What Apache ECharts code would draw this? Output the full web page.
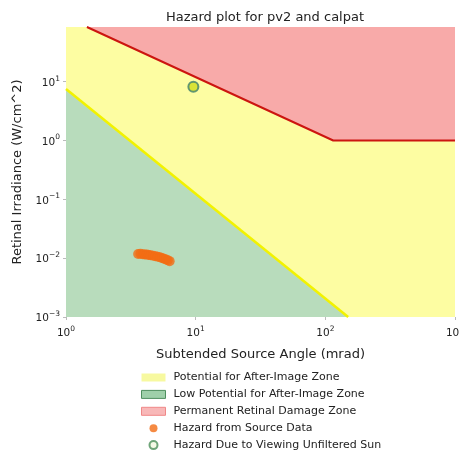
<!DOCTYPE html>
<html><head><meta charset="utf-8">
<script src="https://cdn.jsdelivr.net/npm/echarts@6/dist/echarts.min.js"></script>
<style>html,body{margin:0;padding:0;background:#fff}#c{width:459px;height:453px}</style>
</head><body><div id="c"></div>
<script>
// Axis ranges
const xRange = [1, 1000];
const yRange = [0.001, 85];
// Zone boundaries
const afterImageTop = [[1, 85], [1000, 85]];
const lowPotentialBoundary = [[1, 7.5], [150, 0.001]];
const damageBoundary = [[1.45, 85], [115, 1], [1000, 1]];
// Hazard from source data (angle mrad, irradiance W/cm^2)
const sourceAngle = [3.6, 3.75, 3.9, 4.05, 4.2, 4.35, 4.5, 4.7, 4.9, 5.1, 5.3, 5.5, 5.7, 5.9, 6.1, 6.3];
const sourceIrr = [0.0118, 0.0119, 0.0117, 0.0116, 0.0115, 0.0113, 0.0112, 0.011, 0.0108, 0.0106, 0.0104, 0.0101, 0.0098, 0.0095, 0.0092, 0.0089];
// Unfiltered sun
const sunAngle = [9.6];
const sunIrr = [8.2];
const names = ['Potential for After-Image Zone', 'Low Potential for After-Image Zone', 'Permanent Retinal Damage Zone', 'Hazard from Source Data', 'Hazard Due to Viewing Unfiltered Sun'];

const FONT = 'DejaVu Sans';
function fmt(v) {
  const l = Math.log10(v);
  const e = Math.round(l);
  if (Math.abs(l - e) > 1e-6) return '';
  const s = e < 0 ? '\u2212' + (-e) : '' + e;
  return '{b|10}{s|' + s + '}';
}
const rich = {
  b: { fontSize: 10.5, fontFamily: FONT, color: '#222', verticalAlign: 'bottom', lineHeight: 14 },
  s: { fontSize: 7.5, fontFamily: FONT, color: '#222', verticalAlign: 'top', lineHeight: 14 }
};
const chart = echarts.init(document.getElementById('c'), null, { renderer: 'canvas' });
chart.setOption({
  animation: false,
  backgroundColor: '#fff',
  title: { text: 'Hazard plot for pv2 and calpat', left: 260, top: 6, textAlign: 'center',
    textStyle: { fontFamily: FONT, fontSize: 13, fontWeight: 'normal', color: '#222' } },
  grid: { left: 66, right: 4, top: 27, bottom: 136, containLabel: false, outerBoundsMode: 'none' },
  xAxis: { type: 'log', min: xRange[0], max: xRange[1], logBase: 10,
    name: 'Subtended Source Angle (mrad)', nameLocation: 'middle', nameGap: 31,
    nameTextStyle: { fontFamily: FONT, fontSize: 13, color: '#222' },
    axisLine: { show: false }, splitLine: { show: false },
    axisTick: { show: true, length: 3, lineStyle: { color: '#bbb' } },
    axisLabel: { formatter: fmt, rich: rich, margin: 8 } },
  yAxis: { type: 'log', min: yRange[0], max: yRange[1], logBase: 10,
    name: 'Retinal Irradiance (W/cm^2)', nameLocation: 'middle', nameGap: 42,
    nameTextStyle: { fontFamily: FONT, fontSize: 13, color: '#222' },
    axisLine: { show: false }, splitLine: { show: false },
    axisTick: { show: true, length: 3, lineStyle: { color: '#bbb' } },
    axisLabel: { formatter: fmt, rich: rich, margin: 6, showMaxLabel: false } },
  legend: {
    orient: 'vertical', left: 141, top: 371, itemWidth: 24, itemHeight: 8, itemGap: 3.9, padding: 0,
    textStyle: { fontFamily: FONT, fontSize: 11, color: '#222', lineHeight: 13, padding: [0, 0, 0, 3] },
    data: [
      { name: names[0], icon: 'rect', itemStyle: { color: '#f7f9a0', borderWidth: 0 } },
      { name: names[1], icon: 'rect', itemStyle: { color: '#9fd0aa', borderColor: '#4f8f5f', borderWidth: 1 } },
      { name: names[2], icon: 'rect', itemStyle: { color: '#f8b8b8', borderColor: '#f08888', borderWidth: 1 } },
      { name: names[3], icon: 'circle', itemStyle: { color: '#f36d14', borderWidth: 0 } },
      { name: names[4], icon: 'circle', itemStyle: { color: '#f3f7e0', borderColor: '#4c8f5a', borderWidth: 2 } }
    ]
  },
  series: [
    { name: names[0], type: 'line', data: afterImageTop, showSymbol: false, silent: true, z: 1,
      lineStyle: { width: 0 }, itemStyle: { color: '#fdfda2' },
      areaStyle: { color: '#fdfda2', opacity: 1, origin: 'start' } },
    { name: names[1], type: 'line', data: lowPotentialBoundary, showSymbol: false, silent: true, z: 2,
      lineStyle: { width: 2.5, color: '#f2f200' }, itemStyle: { color: '#b8dcbc' },
      areaStyle: { color: '#b8dcbc', opacity: 1, origin: 'start' } },
    { name: names[2], type: 'line', data: damageBoundary, showSymbol: false, silent: true, z: 3,
      lineStyle: { width: 2, color: '#cc1510' }, itemStyle: { color: '#f8aaa9' },
      areaStyle: { color: '#f8aaa9', opacity: 1, origin: 'end' } },
    { name: names[3], type: 'scatter', symbol: 'circle', symbolSize: 10, z: 10,
      data: sourceAngle.map((a, i) => [a, sourceIrr[i]]),
      itemStyle: { color: '#f36d14' } },
    { name: names[4], type: 'scatter', symbol: 'circle', symbolSize: 10, z: 11,
      data: sunAngle.map((a, i) => [a, sunIrr[i]]),
      itemStyle: { color: '#cfdc1c', borderColor: '#3d7f6e', borderWidth: 2 } }
  ]
});
</script></body></html>
